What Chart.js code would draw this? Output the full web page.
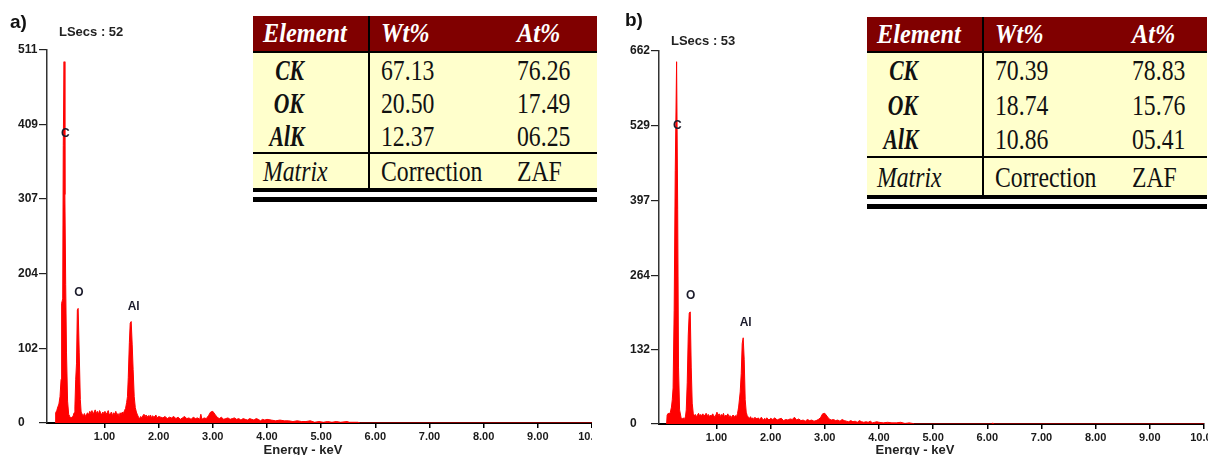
<!DOCTYPE html>
<html>
<head>
<meta charset="utf-8">
<script src="https://cdn.jsdelivr.net/npm/chart.js@4.4.1/dist/chart.umd.min.js"></script>
<style>
body { margin:0; width:1208px; height:455px; background:#fff; position:relative; overflow:hidden;
       font-family: Arial, "Liberation Sans", sans-serif; }
.panel { position:absolute; top:0; height:455px; overflow:hidden; }
.panel canvas { position:absolute; left:0; top:0; }
.tag { position:absolute; font-weight:bold; font-size:19px; line-height:1; color:#111; }
.lsecs { position:absolute; font-weight:bold; font-size:13px; line-height:1; color:#222; white-space:nowrap; }
.xtitle { position:absolute; font-weight:bold; font-size:13px; line-height:1; color:#222; white-space:nowrap; transform:translateX(-50%); }
.edsbox { position:absolute; }
table.eds { border-collapse:collapse; table-layout:fixed; width:100%; background:#ffffcc;
            font-family:"Liberation Serif","Times New Roman",serif; color:#111; }
table.eds td { padding:0; white-space:nowrap; overflow:visible; vertical-align:middle; font-size:30px; line-height:1; }
table.eds td span { display:inline-block; transform:scaleX(.79); transform-origin:0 50%; }
table.eds tr.hd td { background:#800000; color:#fff; font-weight:bold; font-style:italic; font-size:27px; border-bottom:2px solid #000; }
table.eds tr.hd td span { transform:scaleX(.9); }
table.eds td.c1 { border-right:2px solid #000; padding-left:10px; }
table.eds td.c2 { padding-left:11px; }
table.eds td.c3 { padding-left:10px; }
table.eds td.el { text-align:right; padding-left:0; padding-right:64px; font-weight:bold; font-style:italic; }
table.eds td.el span { transform:scaleX(.72); transform-origin:100% 50%; }
table.eds tr.mx td { border-top:2px solid #000; }
table.eds tr.mx td.c1 { font-style:italic; }
.rule { border-top:4px solid #000; border-bottom:5px solid #000; height:5px; }
</style>
</head>
<body>

<div class="panel" style="left:0;width:592px"><canvas id="specA" width="640" height="455"></canvas></div>
<div class="panel" style="left:604px;width:604px"><canvas id="specB" width="640" height="455"></canvas></div>

<div class="tag" style="left:10px;top:12px">a)</div>
<div class="tag" style="left:625px;top:10px">b)</div>
<div class="lsecs" id="lsA" style="left:59px;top:25px"></div>
<div class="lsecs" id="lsB" style="left:671px;top:34px"></div>
<div class="xtitle" id="xtA" style="left:303px;top:443px"></div>
<div class="xtitle" id="xtB" style="left:915px;top:443px"></div>

<div class="edsbox" style="left:253px;top:16px;width:344px">
  <table class="eds" id="tabA"><colgroup><col style="width:116px"><col style="width:138px"><col style="width:90px"></colgroup></table>
  <div class="rule"></div>
</div>
<div class="edsbox" style="left:867px;top:17px;width:340px">
  <table class="eds" id="tabB"><colgroup><col style="width:116px"><col style="width:139px"><col style="width:85px"></colgroup></table>
  <div class="rule"></div>
</div>

<script>
// spectrum a) : energy (keV) and counts
var energyA = [0.09,0.10,0.12,0.14,0.16,0.18,0.20,0.21,0.23,0.24,0.255,0.27,0.285,0.30,0.32,0.34,0.36,0.38,0.40,0.42,
  0.44,0.455,0.47,0.485,0.50,0.515,0.535,0.555,0.57,0.59,0.61,0.63,0.65,0.67,0.69,0.71,0.73,0.75,0.77,0.79,
  0.81,0.83,0.85,0.87,0.89,0.91,0.93,0.95,0.97,0.99,1.01,1.03,1.05,1.07,1.09,1.11,1.13,1.15,1.17,1.19,
  1.21,1.23,1.25,1.27,1.29,1.31,1.33,1.35,1.37,1.39,1.41,1.425,1.44,1.46,1.476,1.494,1.513,1.53,1.55,1.57,
  1.59,1.61,1.63,1.65,1.67,1.69,1.71,1.73,1.75,1.77,1.79,1.81,1.83,1.85,1.87,1.89,1.91,1.93,1.95,1.97,
  2.00,2.04,2.08,2.12,2.16,2.20,2.24,2.28,2.32,2.36,2.40,2.44,2.48,2.52,2.56,2.60,2.64,2.68,2.72,2.76,
  2.78,2.80,2.84,2.88,2.92,2.96,3.00,3.04,3.08,3.12,3.16,3.20,3.24,3.28,3.32,3.36,3.40,3.44,3.48,3.52,
  3.56,3.60,3.64,3.68,3.72,3.76,3.80,3.84,3.88,3.92,3.96,4.00,4.08,4.16,4.24,4.32,4.40,4.48,4.56,4.64,
  4.72,4.80,4.88,4.96,5.04,5.12,5.20,5.28,5.36,5.48,5.52,5.68,5.72,10];
var countA = [0,14,17,22,26,36,60,164,170,380,495,313,190,96,30,12,9,7,8,9,
  14,22,60,82,155,157,96,32,15,12,10,13,9,12,14,11,16,13,17,12,
  15,18,13,16,12,17,14,11,15,13,16,12,14,17,11,13,15,10,14,12,
  16,11,13,9,14,12,15,13,17,20,28,36,62,110,137,139,107,73,36,21,
  15,11,8,6,9,7,10,12,9,11,8,10,9,11,7,10,8,9,11,7,
  9,8,7,9,6,8,7,9,6,8,5,7,9,6,7,5,8,6,7,5,
  12,5,7,6,10,15,16,12,8,6,8,5,6,7,5,6,7,5,6,4,
  6,5,4,6,5,4,6,5,3,5,4,5,4,3,4,3,3,2,3,2,
  2,3,1,2,1,2,1,2,1,2,1,1,0,0];

// spectrum b)
var energyB = [0.08,0.09,0.11,0.13,0.15,0.17,0.185,0.20,0.22,0.24,0.265,0.285,0.30,0.32,0.35,0.37,0.39,0.41,0.43,0.443,
  0.461,0.48,0.498,0.517,0.535,0.553,0.572,0.59,0.61,0.63,0.65,0.67,0.69,0.71,0.73,0.75,0.77,0.79,0.81,0.83,
  0.85,0.87,0.89,0.91,0.93,0.95,0.97,0.99,1.01,1.03,1.05,1.07,1.09,1.11,1.13,1.15,1.17,1.19,1.21,1.23,
  1.25,1.27,1.29,1.31,1.33,1.35,1.37,1.39,1.41,1.439,1.458,1.476,1.494,1.513,1.531,1.55,1.568,1.59,1.61,1.63,
  1.65,1.67,1.69,1.71,1.73,1.75,1.77,1.79,1.81,1.83,1.85,1.87,1.89,1.91,1.93,1.95,1.97,2.00,2.04,2.08,
  2.12,2.16,2.20,2.24,2.28,2.32,2.36,2.40,2.44,2.48,2.52,2.56,2.60,2.64,2.68,2.72,2.76,2.80,2.84,2.88,
  2.92,2.96,3.00,3.04,3.08,3.12,3.16,3.20,3.24,3.28,3.32,3.36,3.40,3.44,3.48,3.52,3.56,3.60,3.64,3.68,
  3.72,3.76,3.80,3.84,3.88,3.92,3.96,4.00,4.08,4.16,4.24,4.32,4.40,4.48,4.56,4.62,4.66,6.08,6.10,6.12,10];
var countB = [0,16,19,18,21,30,43,64,202,450,643,380,101,25,10,9,11,8,14,25,
  73,158,197,199,101,37,19,14,17,13,16,19,14,17,15,18,14,16,19,15,
  17,13,16,14,18,15,12,16,21,15,18,13,17,14,19,12,16,14,18,13,
  15,11,14,16,12,15,13,19,30,57,90,143,153,114,43,21,15,12,10,13,
  9,11,8,12,10,9,11,8,10,12,9,7,10,8,11,9,7,10,8,11,
  7,9,10,6,8,7,9,8,12,7,9,6,7,5,8,6,7,5,6,8,
  11,18,19,14,9,7,8,6,7,5,8,6,5,4,6,4,5,3,6,4,
  3,4,3,5,2,3,4,3,2,3,2,2,3,1,2,1,0,0,2,0,0];

var yTicksA = [0, 102, 204, 307, 409, 511];
var yTicksB = [0, 132, 264, 397, 529, 662];
var xTicks = [1, 2, 3, 4, 5, 6, 7, 8, 9, 10];

var peakNames = ['C', 'O', 'Al'];
var peakEnergyA = [0.28, 0.53, 1.54];
var peakCountA = [397, 178, 160];
var peakEnergyB = [0.277, 0.526, 1.54];
var peakCountB = [529, 227, 180];

var liveSecs = ['LSecs : 52', 'LSecs : 53'];
var xTitle = 'Energy - keV';

var tableHeader = ['Element', 'Wt%', 'At%'];
var elements = ['CK', 'OK', 'AlK'];
var wtA = ['67.13', '20.50', '12.37'];
var atA = ['76.26', '17.49', '06.25'];
var wtB = ['70.39', '18.74', '10.86'];
var atB = ['78.83', '15.76', '05.41'];
var matrixRow = ['Matrix', 'Correction', 'ZAF'];

document.getElementById('lsA').textContent = liveSecs[0];
document.getElementById('lsB').textContent = liveSecs[1];
document.getElementById('xtA').textContent = xTitle;
document.getElementById('xtB').textContent = xTitle;

function fillTable(id, wt, at, heights) {
    var t = document.getElementById(id);
    var h = '<tr class="hd" style="height:' + heights[0] + 'px"><td class="c1"><span>' + tableHeader[0] +
        '</span></td><td class="c2"><span>' + tableHeader[1] + '</span></td><td class="c3"><span>' + tableHeader[2] + '</span></td></tr>';
    for (var i = 0; i < elements.length; i++) {
        h += '<tr style="height:' + heights[i + 1] + 'px"><td class="c1 el"><span>' + elements[i] +
            '</span></td><td class="c2"><span>' + wt[i] + '</span></td><td class="c3"><span>' + at[i] + '</span></td></tr>';
    }
    h += '<tr class="mx" style="height:' + heights[4] + 'px"><td class="c1"><span>' + matrixRow[0] +
        '</span></td><td class="c2"><span>' + matrixRow[1] + '</span></td><td class="c3"><span>' + matrixRow[2] + '</span></td></tr>';
    t.insertAdjacentHTML('beforeend', h);
}
fillTable('tabA', wtA, atA, [36, 34, 34, 33, 35]);
fillTable('tabB', wtB, atB, [35, 35, 35, 35, 38]);

// element names over the peaks
var peakLabels = {
    id: 'peakLabels',
    afterDatasetsDraw: function(chart, args, opts) {
        var ctx = chart.ctx, x = chart.scales.x, y = chart.scales.y;
        ctx.save();
        ctx.font = 'bold 12px Arial, "Liberation Sans", sans-serif';
        ctx.fillStyle = '#1c1c2c';
        ctx.textAlign = 'center';
        ctx.textBaseline = 'middle';
        for (var i = 0; i < opts.names.length; i++) {
            ctx.fillText(opts.names[i], x.getPixelForValue(opts.energy[i]), y.getPixelForValue(opts.counts[i]));
        }
        ctx.restore();
    }
};

var xFont = { family: 'Arial, "Liberation Sans", sans-serif', size: 11, weight: 'bold' };
var yFont = { family: 'Arial, "Liberation Sans", sans-serif', size: 12, weight: 'bold' };

function drawSpectrum(id, energy, counts, yTicks, pe, pc, pad, xHeight) {
    var pts = energy.map(function(e, i) { return { x: e, y: counts[i] }; });
    return new Chart(document.getElementById(id), {
        type: 'line',
        data: {
            datasets: [{
                data: pts,
                borderColor: '#ff0000',
                backgroundColor: '#ff0000',
                borderWidth: 1,
                fill: 'origin',
                pointRadius: 0,
                tension: 0
            }]
        },
        options: {
            responsive: false,
            animation: false,
            layout: { padding: pad },
            plugins: {
                legend: { display: false },
                tooltip: { enabled: false },
                peakLabels: { names: peakNames, energy: pe, counts: pc }
            },
            scales: {
                x: {
                    type: 'linear',
                    min: -0.06,
                    max: 10,
                    afterBuildTicks: function(s) { s.ticks = xTicks.map(function(v) { return { value: v }; }); },
                    afterFit: function(s) { s.height = xHeight; },
                    grid: { drawOnChartArea: false, drawTicks: true, tickLength: 5, color: '#000', lineWidth: 1.5 },
                    border: { display: true, color: '#000', width: 2 },
                    ticks: {
                        autoSkip: false, maxRotation: 0, padding: 2, font: xFont, color: '#1a1a1a',
                        callback: function(v) { return v.toFixed(2); }
                    }
                },
                y: {
                    min: 0,
                    max: yTicks[yTicks.length - 1],
                    afterBuildTicks: function(s) { s.ticks = yTicks.map(function(v) { return { value: v }; }); },
                    afterFit: function(s) { s.width = 29; },
                    grid: { drawOnChartArea: false, drawTicks: true, tickLength: 8, color: '#222', lineWidth: 1.2 },
                    border: { display: true, color: '#333', width: 1.5 },
                    ticks: { crossAlign: 'far', font: yFont, color: '#1a1a1a', callback: function(v) { return String(v); } }
                }
            }
        },
        plugins: [peakLabels]
    });
}

drawSpectrum('specA', energyA, countA, yTicksA, peakEnergyA, peakCountA, { left: 18, top: 50, right: 48, bottom: 0 }, 32);
drawSpectrum('specB', energyB, countB, yTicksB, peakEnergyB, peakCountB, { left: 26, top: 51, right: 40, bottom: 0 }, 31);
</script>
</body>
</html>
